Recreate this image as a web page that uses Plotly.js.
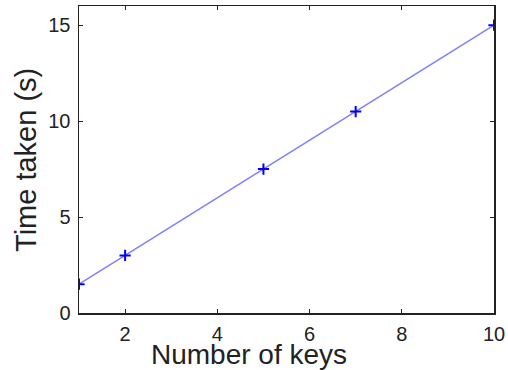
<!DOCTYPE html>
<html><head><meta charset="utf-8">
<script src="https://cdn.plot.ly/plotly-3.0.1.min.js"></script>
<style>html,body{margin:0;padding:0;background:#fff}</style>
</head><body>
<div id="chart" style="width:508px;height:370px"></div>
<script>
const keys = [1, 2, 5, 7, 10];
const timeTaken = [1.5, 3, 7.5, 10.5, 15];
const xTicks = [2, 4, 6, 8, 10];
const yTicks = [0, 5, 10, 15];
const xTitle = 'Number of keys';
const yTitle = 'Time taken (s)';

const FONT = 'Liberation Sans, Arial, sans-serif';
const traces = [
  {x: keys, y: timeTaken, mode: 'lines', line: {color: '#8080ff', width: 1.5}, hoverinfo: 'skip'},
  {x: keys, y: timeTaken, mode: 'markers', marker: {symbol: 'cross-thin', size: 8, line: {color: '#0000ff', width: 2}, color: '#0000ff'}}
];
const axisCommon = {
  showgrid: false, zeroline: false, showline: true, mirror: 'ticks',
  linecolor: '#222', linewidth: 1.5, ticks: 'inside', ticklen: 4, tickcolor: '#222',
  tickfont: {family: FONT, size: 20, color: '#222'}
};
const layout = {
  width: 508, height: 370,
  margin: {l: 79, r: 14, t: 6, b: 57},
  showlegend: false,
  paper_bgcolor: '#fff', plot_bgcolor: '#fff',
  xaxis: Object.assign({}, axisCommon, {
    range: [1, 10], tickvals: xTicks, ticktext: xTicks.map(String), ticklabelstandoff: 2
  }),
  yaxis: Object.assign({}, axisCommon, {
    range: [0, 16], tickvals: yTicks, ticktext: yTicks.map(String), ticklabelstandoff: 3
  }),
  annotations: [
    {text: xTitle, xref: 'paper', yref: 'paper', x: 0.41, y: -0.135, xanchor: 'center', yanchor: 'middle',
     showarrow: false, font: {family: FONT, size: 28, color: '#222'}},
    {text: yTitle, xref: 'paper', yref: 'paper', x: -0.128, y: 0.498, xanchor: 'center', yanchor: 'middle',
     textangle: -90, showarrow: false, font: {family: FONT, size: 29, color: '#222'}}
  ]
};
Plotly.newPlot('chart', traces, layout, {displayModeBar: false, staticPlot: true});
</script>
</body></html>
